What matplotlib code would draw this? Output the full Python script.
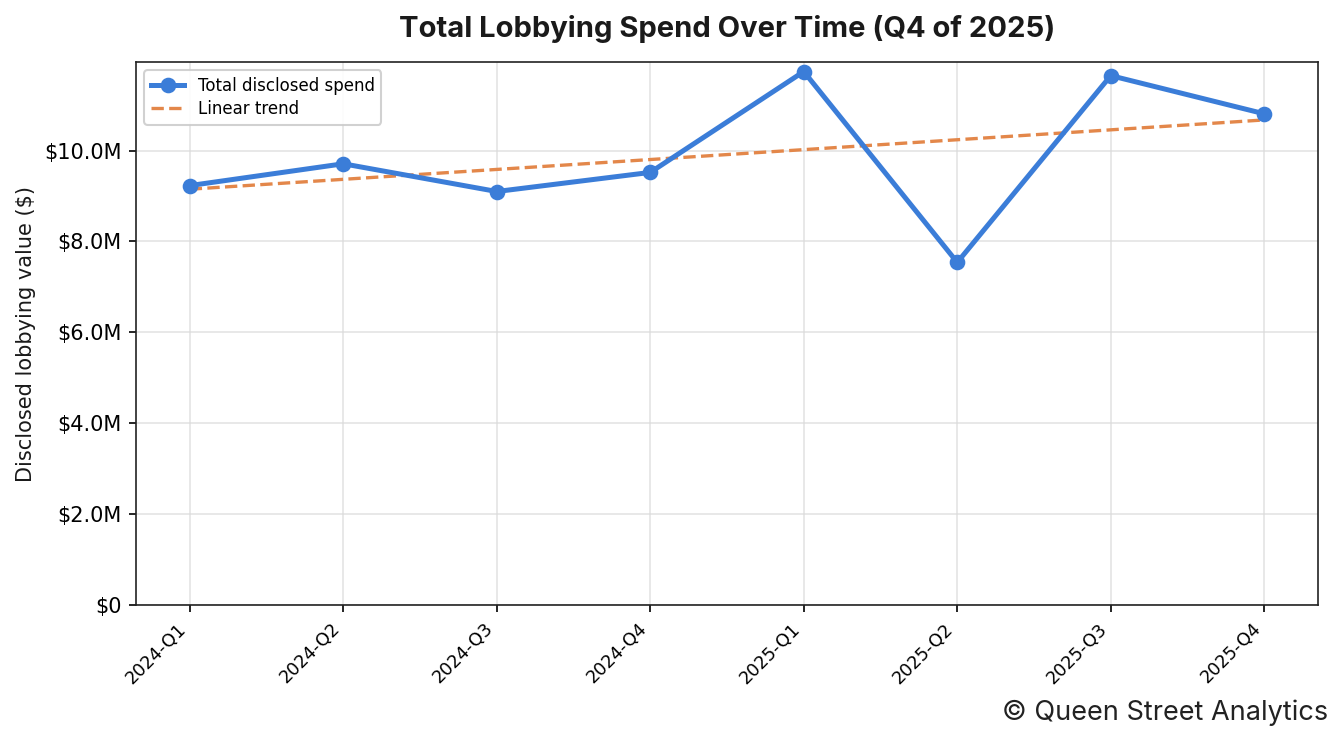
import matplotlib
matplotlib.use("Agg")
import matplotlib.pyplot as plt
import numpy as np
from matplotlib.ticker import FuncFormatter

quarters = ["2024-Q1", "2024-Q2", "2024-Q3", "2024-Q4",
            "2025-Q1", "2025-Q2", "2025-Q3", "2025-Q4"]
spend = [9.23e6, 9.71e6, 9.10e6, 9.52e6, 11.74e6, 7.54e6, 11.65e6, 10.81e6]

BLUE = "#3b7dd8"
ORANGE = "#e3874a"
INK = "#1a1a1a"


def money(v, _pos):
    if v == 0:
        return "$0"
    return f"${v / 1e6:.1f}M"


def main() -> None:
    plt.rcParams["font.family"] = ["DejaVu Sans"]
    fig = plt.figure(figsize=(1343 / 150, 744 / 150), dpi=150)
    ax = fig.add_axes([136 / 1343, 1 - 605 / 744, (1318 - 136) / 1343, (605 - 62) / 744])

    x = np.arange(len(quarters))
    y = np.array(spend)
    slope, icpt = np.polyfit(x, y, 1)

    ax.plot(x, y, color=BLUE, linewidth=2.4, marker="o", markersize=6.5,
            label="Total disclosed spend", zorder=3)
    ax.plot(x, slope * x + icpt, color=ORANGE, linewidth=1.6, linestyle="--",
            label="Linear trend", zorder=2)

    ax.set_ylim(bottom=0)
    ax.yaxis.set_major_formatter(FuncFormatter(money))
    ax.set_xticks(x)
    ax.set_xticklabels(quarters, rotation=45, ha="right", fontsize=8.5)
    ax.tick_params(axis="y", labelsize=10)
    ax.grid(True, color="#d9d9d9", linewidth=0.8, alpha=0.7)
    ax.set_axisbelow(True)
    for s in ax.spines.values():
        s.set_color("#222222")

    ax.set_ylabel("Disclosed lobbying value ($)", fontsize=10, color=INK)
    ax.set_title("Total Lobbying Spend Over Time (Q4 of 2025)", fontsize=14,
                 family="Inter", weight="bold", color=INK, pad=12)
    ax.legend(loc="upper left", fontsize=8, framealpha=0.9, labelspacing=0.3)

    fig.text(1328 / 1343, 1 - 713 / 744, "\u00a9 Queen Street Analytics", ha="right",
             va="center", fontsize=13, family="Inter", color="#222222")

    fig.savefig("out.png", dpi=150)
    plt.close(fig)


if __name__ == "__main__":
    main()
